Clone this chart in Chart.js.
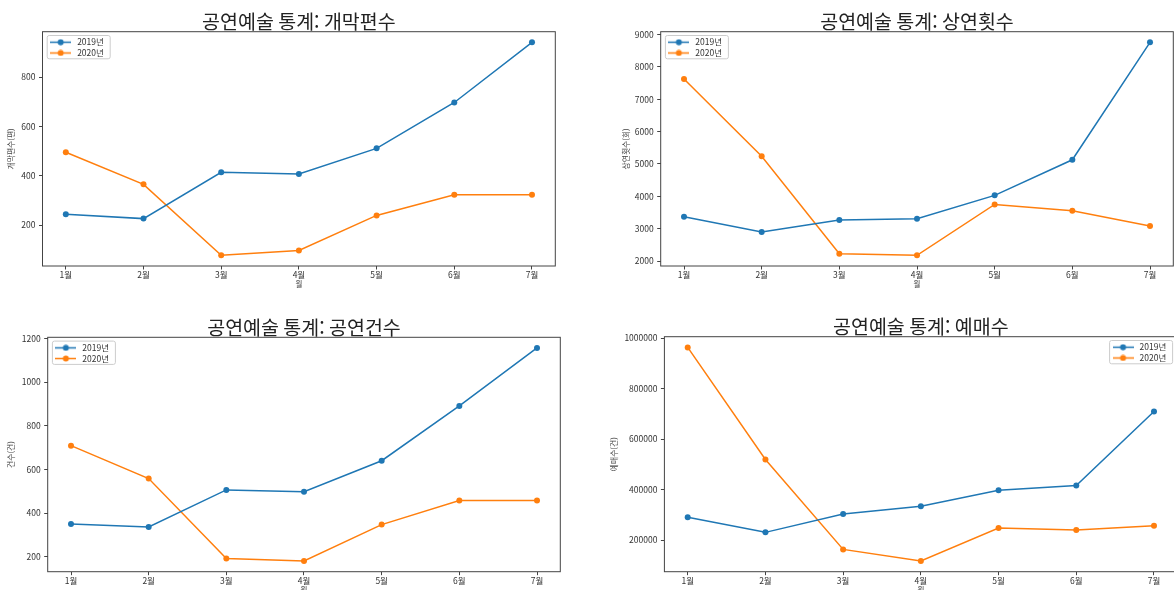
<!DOCTYPE html>
<html lang="ko">
<head>
    <meta charset="UTF-8">
    <title>공연예술 통계</title>
    <script src="https://cdn.jsdelivr.net/npm/chart.js"></script>
    <style>
        html, body { margin: 0; padding: 0; background: #fff; overflow: hidden; }
        body { position: relative; width: 1174px; height: 590px; }
        canvas { position: absolute; }
    </style>
</head>
<body>
    <canvas id="chart1"></canvas>
    <canvas id="chart2"></canvas>
    <canvas id="chart3"></canvas>
    <canvas id="chart4"></canvas>
<script>
    // data
    var months = ['1월', '2월', '3월', '4월', '5월', '6월', '7월'];
    var seriesNames = ['2019년', '2020년'];

    var openings2019 = [244, 226, 414, 407, 511, 697, 941];
    var openings2020 = [495, 365, 77, 97, 239, 323, 323];
    var openingsTicks = [200, 400, 600, 800];

    var shows2019 = [3370, 2898, 3268, 3309, 4030, 5130, 8760];
    var shows2020 = [7630, 5240, 2228, 2176, 3748, 3552, 3085];
    var showsTicks = [2000, 3000, 4000, 5000, 6000, 7000, 8000, 9000];

    var cases2019 = [350, 336, 506, 498, 640, 891, 1157];
    var cases2020 = [709, 558, 192, 180, 347, 458, 458];
    var casesTicks = [200, 400, 600, 800, 1000, 1200];

    var tickets2019 = [290000, 230500, 303000, 334000, 397000, 416000, 709000];
    var tickets2020 = [963000, 519000, 163000, 117000, 248000, 240000, 257000];
    var ticketsTicks = [200000, 400000, 600000, 800000, 1000000];

    var FONT = "'Noto Sans CJK KR', 'Noto Sans', sans-serif";
    var BLUE = '#1f77b4', ORANGE = '#ff7f0e';
    Chart.defaults.font.family = FONT;

    // line + dot sample like matplotlib's legend handle
    function legendIcon(color) {
        var c = document.createElement('canvas');
        c.width = 21; c.height = 7;
        var g = c.getContext('2d');
        g.strokeStyle = color; g.lineWidth = 1.5;
        g.beginPath(); g.moveTo(0, 3.5); g.lineTo(21, 3.5); g.stroke();
        g.fillStyle = color;
        g.beginPath(); g.arc(10.5, 3.5, 3, 0, Math.PI * 2); g.fill();
        return c;
    }
    var icons = [legendIcon(BLUE), legendIcon(ORANGE)];

    // axes frame + legend frame, and move the legend inside the plot
    var framePlugin = {
        id: 'frame',
        beforeDraw: function(chart, args, o) {
            var a = chart.chartArea, lg = chart.legend, ctx = chart.ctx;
            var fw = 63, fh = 23.3;
            var fx = o.right ? a.right - 4.7 - fw : a.left + 4.7;
            var fy = a.top + 3.8;
            lg.left = fx - 1; lg.top = fy + 0.3;
            lg.width = 80; lg.height = 40;
            lg.right = lg.left + 80; lg.bottom = lg.top + 40;
            ctx.save();
            ctx.strokeStyle = '#444'; ctx.lineWidth = 1;
            ctx.strokeRect(a.left, a.top, a.right - a.left, a.bottom - a.top);
            ctx.beginPath();
            if (ctx.roundRect) ctx.roundRect(fx, fy, fw, fh, 2); else ctx.rect(fx, fy, fw, fh);
            ctx.fillStyle = 'rgba(255,255,255,0.8)';
            ctx.fill();
            ctx.strokeStyle = '#cccccc';
            ctx.stroke();
            ctx.restore();
        }
    };

    function bounds(a, b) {
        var lo = Math.min.apply(null, a.concat(b)), hi = Math.max.apply(null, a.concat(b));
        var m = (hi - lo) * 0.05;
        return [lo - m, hi + m];
    }

    function points(vals) {
        return vals.map(function(v, i) { return { x: i, y: v }; });
    }

    function makeChart(id, cfg) {
        var cv = document.getElementById(id);
        var cl = cfg.canvasLeft, ct = cfg.canvasTop;
        var w = Math.ceil(cfg.plot.right - cl + 8);
        var h = Math.ceil(cfg.plot.bottom - ct + 22.5);
        var yw = cfg.plot.left - cl;
        var xh = h - (cfg.plot.bottom - ct);
        cv.width = w; cv.height = h;
        cv.style.left = cl + 'px'; cv.style.top = ct + 'px';
        var yb = bounds(cfg.a, cfg.b);

        return new Chart(cv.getContext('2d'), {
            type: 'line',
            data: {
                datasets: [
                    { label: seriesNames[0], data: points(cfg.a), borderColor: BLUE, backgroundColor: BLUE },
                    { label: seriesNames[1], data: points(cfg.b), borderColor: ORANGE, backgroundColor: ORANGE }
                ]
            },
            plugins: [framePlugin],
            options: {
                responsive: false,
                animation: false,
                events: [],
                layout: { padding: { left: 0, top: 0, bottom: 0, right: w - (cfg.plot.right - cl) } },
                elements: {
                    line: { borderWidth: 1.5, tension: 0 },
                    point: { radius: 3, borderWidth: 0 }
                },
                scales: {
                    x: {
                        type: 'linear', min: -0.3, max: 6.3,
                        afterFit: function(s) { s.height = xh; },
                        afterBuildTicks: function(s) {
                            s.ticks = months.map(function(m, i) { return { value: i }; });
                        },
                        border: { display: false },
                        grid: { drawOnChartArea: false, drawTicks: true, tickLength: 3.5, tickColor: '#444' },
                        ticks: {
                            padding: 0, maxRotation: 0, autoSkip: false,
                            color: '#333', font: { size: 8.5 },
                            callback: function(v) { return months[v]; }
                        },
                        title: { display: true, text: '월', color: '#444', font: { size: 7.5 }, padding: 0 }
                    },
                    y: {
                        type: 'linear', min: yb[0], max: yb[1],
                        afterFit: function(s) { s.width = yw; },
                        afterBuildTicks: function(s) {
                            s.ticks = cfg.ticks.map(function(v) { return { value: v }; });
                        },
                        border: { display: false },
                        grid: { drawOnChartArea: false, drawTicks: true, tickLength: 3.5, tickColor: '#444' },
                        ticks: {
                            padding: 3.5, autoSkip: false,
                            color: '#333', font: { size: 8.5 },
                            callback: function(v) { return String(v); }
                        },
                        title: { display: true, text: cfg.yTitle, color: '#444', font: { size: 7.8 }, padding: 0 }
                    }
                },
                plugins: {
                    frame: { right: !!cfg.legendRight },
                    tooltip: { enabled: false },
                    title: {
                        display: true, text: cfg.title, fullSize: false, color: '#222',
                        font: { size: 19.5, weight: 'normal', lineHeight: '19.8px' },
                        padding: { top: cfg.plot.top - ct - 19.8, bottom: 0 }
                    },
                    legend: {
                        position: 'chartArea', fullSize: false, align: 'start',
                        labels: {
                            usePointStyle: true, pointStyleWidth: 24.5, padding: 2.2,
                            color: '#333', font: { size: 8.5 },
                            generateLabels: function(chart) {
                                return chart.data.datasets.map(function(ds, i) {
                                    return { text: ds.label, pointStyle: icons[i], fillStyle: ds.borderColor,
                                             strokeStyle: ds.borderColor, lineWidth: 0, hidden: false,
                                             datasetIndex: i, fontColor: '#333' };
                                });
                            }
                        }
                    }
                }
            }
        });
    }

    makeChart('chart1', {
        title: '공연예술 통계: 개막편수', yTitle: '개막편수(편)', ticks: openingsTicks,
        a: openings2019, b: openings2020,
        canvasLeft: 6, canvasTop: 0,
        plot: { left: 42.5, top: 31.7, right: 555.3, bottom: 266 }
    });
    makeChart('chart2', {
        title: '공연예술 통계: 상연횟수', yTitle: '상연횟수(회)', ticks: showsTicks,
        a: shows2019, b: shows2020,
        canvasLeft: 621, canvasTop: 0,
        plot: { left: 660.7, top: 31.7, right: 1173.3, bottom: 266 }
    });
    makeChart('chart3', {
        title: '공연예술 통계: 공연건수', yTitle: '건수(건)', ticks: casesTicks,
        a: cases2019, b: cases2020,
        canvasLeft: 6, canvasTop: 300,
        plot: { left: 47.7, top: 337.3, right: 560.3, bottom: 571.7 }
    });
    makeChart('chart4', {
        title: '공연예술 통계: 예매수', yTitle: '예매수(건)', ticks: ticketsTicks,
        a: tickets2019, b: tickets2020, legendRight: true,
        canvasLeft: 609, canvasTop: 300,
        plot: { left: 664.4, top: 336.7, right: 1177.3, bottom: 571.7 }
    });
</script>
</body>
</html>
